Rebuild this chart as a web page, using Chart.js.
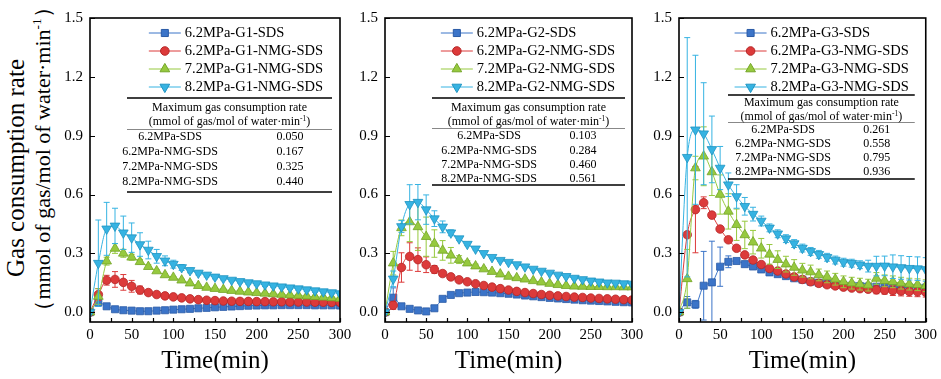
<!DOCTYPE html>
<html>
<head>
<meta charset="utf-8">
<title>Gas consumption rate</title>
<script src="https://cdn.jsdelivr.net/npm/chart.js@4.4.1/dist/chart.umd.min.js"></script>
<style>
  body { margin: 0; background: #fff; }
  #page { position: relative; width: 941px; height: 379px; overflow: hidden; font-family: "Liberation Serif", "Times New Roman", serif; color: #000; }
  canvas { position: absolute; top: 0; }
  .ytitle { position: absolute; white-space: nowrap; transform: translate(-50%, -50%) rotate(-90deg); line-height: 1; }
  .ytitle sup { font-size: 0.6em; }
</style>
</head>
<body>
<div id="page">
  <div class="ytitle" style="left:15px;top:168px;font-size:25px;">Gas consumption rate</div>
  <div class="ytitle" style="left:42px;top:159px;font-size:22px;">（mmol of gas/mol of water·min<sup>-1</sup>）</div>
  <canvas id="c1" width="310" height="379" style="left:50px"></canvas>
  <canvas id="c2" width="307" height="379" style="left:345px"></canvas>
  <canvas id="c3" width="302" height="379" style="left:639px"></canvas>
</div>
<script>
// time axis (min)
const times = [0, 10, 20, 30, 40, 50, 60, 70, 80, 90, 100, 110, 120, 130, 140, 150,
  160, 170, 180, 190, 200, 210, 220, 230, 240, 250, 260, 270, 280, 290, 300];
const xTicks = [0, 50, 100, 150, 200, 250, 300];
const xMinorTicks = [25, 75, 125, 175, 225, 275];
const yTicks = [0, 0.3, 0.6, 0.9, 1.2, 1.5];

const tableRows = ['6.2MPa-SDS', '6.2MPa-NMG-SDS', '7.2MPa-NMG-SDS', '8.2MPa-NMG-SDS'];

// ---- G1 ----
const g1Labels = ['6.2MPa-G1-SDS', '6.2MPa-G1-NMG-SDS', '7.2MPa-G1-NMG-SDS', '8.2MPa-G1-NMG-SDS'];
const g1Max = ['0.050', '0.167', '0.325', '0.440'];
const g1Sds = [0, 0.05, 0.03, 0.015, 0.01, 0.008, 0.005, 0.005, 0.008, 0.01, 0.013, 0.015, 0.017, 0.02, 0.022, 0.025,
  0.027, 0.029, 0.031, 0.033, 0.034, 0.035, 0.035, 0.036, 0.036, 0.036, 0.036, 0.035, 0.035, 0.035, 0.034];
const g1Nmg62 = [0, 0.09, 0.163, 0.167, 0.152, 0.132, 0.113, 0.1, 0.09, 0.083, 0.078, 0.073, 0.068, 0.064, 0.061, 0.059,
  0.057, 0.056, 0.055, 0.055, 0.054, 0.054, 0.053, 0.053, 0.052, 0.052, 0.052, 0.051, 0.051, 0.05, 0.05];
const g1Nmg72 = [0, 0.08, 0.26, 0.325, 0.3, 0.28, 0.257, 0.232, 0.21, 0.19, 0.177, 0.163, 0.148, 0.135, 0.126, 0.12,
  0.115, 0.11, 0.106, 0.102, 0.099, 0.096, 0.093, 0.09, 0.087, 0.085, 0.082, 0.079, 0.076, 0.073, 0.07];
const g1Nmg82 = [0, 0.25, 0.425, 0.44, 0.405, 0.38, 0.345, 0.317, 0.285, 0.262, 0.245, 0.228, 0.213, 0.2, 0.19, 0.18,
  0.172, 0.164, 0.157, 0.151, 0.146, 0.14, 0.135, 0.13, 0.125, 0.12, 0.115, 0.11, 0.105, 0.1, 0.095];
const g1SdsErr = [0, 0.02, 0.008, 0.005, 0.005, 0.005, 0.005, 0.005, 0.005, 0.005, 0.005, 0.005, 0.005, 0.005, 0.005, 0.005,
  0.005, 0.005, 0.005, 0.005, 0.005, 0.005, 0.005, 0.005, 0.005, 0.005, 0.005, 0.005, 0.005, 0.005, 0.005];
const g1Nmg62Err = [0, 0.03, 0.025, 0.04, 0.04, 0.03, 0.02, 0.012, 0.01, 0.008, 0.006, 0.005, 0.005, 0.005, 0.005, 0.005,
  0.005, 0.005, 0.005, 0.005, 0.005, 0.005, 0.005, 0.005, 0.005, 0.005, 0.005, 0.005, 0.005, 0.005, 0.005];
const g1Nmg72Err = [0, 0.04, 0.02, 0.025, 0.02, 0.015, 0.012, 0.01, 0.008, 0.006, 0.005, 0.005, 0.005, 0.005, 0.005, 0.005,
  0.005, 0.005, 0.005, 0.005, 0.005, 0.005, 0.005, 0.005, 0.005, 0.005, 0.005, 0.005, 0.005, 0.005, 0.005];
const g1Nmg82Err = [0, 0.22, 0.135, 0.09, 0.085, 0.075, 0.06, 0.045, 0.035, 0.025, 0.02, 0.015, 0.012, 0.01, 0.01, 0.01,
  0.008, 0.008, 0.008, 0.008, 0.008, 0.008, 0.008, 0.008, 0.008, 0.008, 0.008, 0.008, 0.008, 0.008, 0.008];

// ---- G2 ----
const g2Labels = ['6.2MPa-G2-SDS', '6.2MPa-G2-NMG-SDS', '7.2MPa-G2-NMG-SDS', '8.2MPa-G2-NMG-SDS'];
const g2Max = ['0.103', '0.284', '0.460', '0.561'];
const g2Sds = [0, 0.074, 0.03, 0.017, 0.009, 0.004, 0.02, 0.068, 0.088, 0.097, 0.1, 0.103, 0.102, 0.1, 0.097, 0.094,
  0.09, 0.085, 0.081, 0.077, 0.073, 0.07, 0.067, 0.064, 0.061, 0.059, 0.057, 0.055, 0.053, 0.051, 0.05];
const g2Nmg62 = [0, 0.035, 0.228, 0.284, 0.268, 0.242, 0.218, 0.197, 0.18, 0.165, 0.155, 0.145, 0.136, 0.128, 0.12, 0.113,
  0.106, 0.1, 0.095, 0.09, 0.086, 0.083, 0.08, 0.077, 0.075, 0.072, 0.07, 0.068, 0.066, 0.064, 0.062];
const g2Nmg72 = [0, 0.25, 0.43, 0.46, 0.435, 0.385, 0.35, 0.315, 0.29, 0.268, 0.25, 0.235, 0.22, 0.207, 0.194, 0.182,
  0.175, 0.168, 0.16, 0.153, 0.146, 0.14, 0.135, 0.132, 0.131, 0.13, 0.13, 0.129, 0.129, 0.128, 0.128];
const g2Nmg82 = [0, 0.17, 0.437, 0.55, 0.561, 0.523, 0.477, 0.435, 0.405, 0.375, 0.347, 0.323, 0.3, 0.28, 0.265, 0.255,
  0.243, 0.232, 0.22, 0.21, 0.2, 0.19, 0.183, 0.174, 0.167, 0.16, 0.155, 0.15, 0.149, 0.146, 0.144];
const g2SdsErr = [0, 0.05, 0.01, 0.005, 0.005, 0.005, 0.005, 0.005, 0.005, 0.005, 0.005, 0.005, 0.005, 0.005, 0.005, 0.005,
  0.005, 0.005, 0.005, 0.005, 0.005, 0.005, 0.005, 0.005, 0.005, 0.005, 0.005, 0.005, 0.005, 0.005, 0.005];
const g2Nmg62Err = [0, 0.02, 0.075, 0.07, 0.06, 0.04, 0.02, 0.012, 0.01, 0.008, 0.006, 0.005, 0.005, 0.005, 0.005, 0.005,
  0.005, 0.005, 0.005, 0.005, 0.005, 0.005, 0.005, 0.005, 0.005, 0.005, 0.005, 0.005, 0.005, 0.005, 0.005];
const g2Nmg72Err = [0, 0.06, 0.04, 0.1, 0.12, 0.1, 0.07, 0.05, 0.04, 0.02, 0.012, 0.01, 0.008, 0.006, 0.005, 0.005,
  0.005, 0.005, 0.005, 0.005, 0.005, 0.005, 0.005, 0.005, 0.005, 0.005, 0.005, 0.005, 0.005, 0.005, 0.005];
const g2Nmg82Err = [0, 0.04, 0.03, 0.1, 0.09, 0.075, 0.04, 0.03, 0.015, 0.01, 0.008, 0.006, 0.005, 0.005, 0.005, 0.005,
  0.005, 0.005, 0.005, 0.005, 0.005, 0.005, 0.005, 0.005, 0.005, 0.005, 0.005, 0.005, 0.005, 0.005, 0.005];

// ---- G3 ----
const g3Labels = ['6.2MPa-G3-SDS', '6.2MPa-G3-NMG-SDS', '7.2MPa-G3-NMG-SDS', '8.2MPa-G3-NMG-SDS'];
const g3Max = ['0.261', '0.558', '0.795', '0.936'];
const g3Sds = [0, 0.05, 0.04, 0.135, 0.152, 0.232, 0.257, 0.261, 0.245, 0.233, 0.218, 0.203, 0.194, 0.184, 0.173, 0.166,
  0.156, 0.15, 0.145, 0.14, 0.137, 0.135, 0.133, 0.131, 0.13, 0.129, 0.128, 0.127, 0.126, 0.125, 0.125];
const g3Nmg62 = [0, 0.395, 0.523, 0.558, 0.495, 0.424, 0.369, 0.326, 0.292, 0.266, 0.243, 0.223, 0.21, 0.195, 0.18, 0.167,
  0.155, 0.147, 0.14, 0.134, 0.128, 0.123, 0.12, 0.117, 0.114, 0.112, 0.11, 0.108, 0.106, 0.104, 0.102];
const g3Nmg72 = [0, 0.17, 0.735, 0.795, 0.715, 0.6, 0.514, 0.446, 0.394, 0.357, 0.326, 0.295, 0.268, 0.245, 0.228, 0.214,
  0.205, 0.19, 0.18, 0.168, 0.155, 0.148, 0.143, 0.138, 0.172, 0.16, 0.155, 0.148, 0.143, 0.14, 0.135];
const g3Nmg82 = [0, 0.79, 0.93, 0.91, 0.83, 0.735, 0.65, 0.59, 0.54, 0.5, 0.465, 0.43, 0.4, 0.375, 0.35, 0.327,
  0.31, 0.295, 0.28, 0.266, 0.255, 0.25, 0.242, 0.235, 0.235, 0.236, 0.232, 0.228, 0.224, 0.222, 0.218];
const g3SdsErr = [0, 0.03, 0.02, 0.175, 0.21, 0.1, 0.03, 0.01, 0.01, 0.01, 0.01, 0.01, 0.01, 0.01, 0.01, 0.01,
  0.01, 0.01, 0.01, 0.01, 0.01, 0.01, 0.01, 0.01, 0.01, 0.01, 0.01, 0.01, 0.01, 0.01, 0.01];
const g3Nmg62Err = [0, 0.01, 0.22, 0.03, 0.012, 0.01, 0.01, 0.01, 0.01, 0.01, 0.01, 0.01, 0.01, 0.01, 0.01, 0.01,
  0.01, 0.01, 0.01, 0.01, 0.01, 0.012, 0.015, 0.015, 0.02, 0.02, 0.025, 0.025, 0.025, 0.025, 0.025];
const g3Nmg72Err = [0, 0.15, 0.06, 0.15, 0.12, 0.1, 0.09, 0.08, 0.07, 0.06, 0.05, 0.05, 0.045, 0.04, 0.04, 0.035,
  0.035, 0.03, 0.03, 0.03, 0.03, 0.03, 0.03, 0.03, 0.03, 0.03, 0.03, 0.03, 0.03, 0.03, 0.03];
const g3Nmg82Err = [0, 0.61, 0.38, 0.26, 0.17, 0.11, 0.06, 0.06, 0.045, 0.035, 0.025, 0.02, 0.02, 0.02, 0.02, 0.02,
  0.02, 0.02, 0.02, 0.02, 0.02, 0.02, 0.02, 0.03, 0.05, 0.05, 0.06, 0.06, 0.06, 0.06, 0.06];

const colors = ['#3b74c8', '#dc3a3a', '#96c93e', '#36b3e2'];
const edgeColors = ['#2a5aa6', '#b52626', '#74a527', '#1f94c2'];
const markers = ['rect', 'circle', 'triangle', 'down'];
const markerSize = [5, 4.3, 5.6, 5.6];

const SERIF = '"Liberation Serif", "Times New Roman", serif';

function drawMarker(ctx, style, x, y, r) {
  ctx.beginPath();
  if (style === 'rect') {
    const s = r * Math.SQRT1_2;
    ctx.rect(x - s, y - s, 2 * s, 2 * s);
  } else if (style === 'circle') {
    ctx.arc(x, y, r, 0, Math.PI * 2);
  } else {
    const d = style === 'down' ? 1 : -1;
    const w = r * Math.sqrt(3) / 2;
    ctx.moveTo(x, y + d * r);
    ctx.lineTo(x + w, y - d * r / 2);
    ctx.lineTo(x - w, y - d * r / 2);
    ctx.closePath();
  }
  ctx.fill();
  ctx.stroke();
}

// error bars under each series
const errorBars = {
  id: 'errorBars',
  beforeDatasetDraw(chart, args) {
    const ds = chart.data.datasets[args.index];
    if (!ds.errors) return;
    const { ctx, chartArea: a } = chart;
    const y = chart.scales.y;
    ctx.save();
    ctx.beginPath();
    ctx.rect(a.left, a.top, a.right - a.left, a.bottom - a.top);
    ctx.clip();
    ctx.strokeStyle = ds.borderColor;
    ctx.lineWidth = 1;
    args.meta.data.forEach((pt, i) => {
      const e = ds.errors[i];
      if (!e) return;
      const v = ds.data[i].y;
      const top = y.getPixelForValue(v + e);
      const bot = y.getPixelForValue(v - e);
      ctx.beginPath();
      ctx.moveTo(pt.x, top); ctx.lineTo(pt.x, bot);
      ctx.moveTo(pt.x - 3, top); ctx.lineTo(pt.x + 3, top);
      ctx.moveTo(pt.x - 3, bot); ctx.lineTo(pt.x + 3, bot);
      ctx.stroke();
    });
    ctx.restore();
  }
};

// box frame with inward ticks
const frame = {
  id: 'frame',
  afterDraw(chart) {
    const { ctx, chartArea: a } = chart;
    const x = chart.scales.x, y = chart.scales.y;
    ctx.save();
    ctx.strokeStyle = '#000';
    ctx.lineWidth = 1.2;
    ctx.beginPath();
    xTicks.concat(xMinorTicks).forEach(t => {
      const px = Math.round(x.getPixelForValue(t)) + 0.5;
      ctx.moveTo(px, a.bottom); ctx.lineTo(px, a.bottom - 4);
    });
    yTicks.forEach(v => {
      const py = Math.round(y.getPixelForValue(v)) + 0.5;
      ctx.moveTo(a.left, py); ctx.lineTo(a.left + 5, py);
    });
    ctx.stroke();
    ctx.lineWidth = 1.6;
    ctx.strokeRect(a.left, a.top, a.right - a.left, a.bottom - a.top);
    ctx.restore();
  }
};

// legend + inset table
const inset = {
  id: 'inset',
  afterDraw(chart, args, opts) {
    const { ctx, chartArea: a } = chart;
    ctx.save();
    // legend
    ctx.font = '14.5px ' + SERIF;
    ctx.textBaseline = 'middle';
    ctx.textAlign = 'left';
    const widths = chart.data.datasets.map(d => ctx.measureText(d.label).width);
    const textX = a.right - 17 - Math.max(...widths);
    chart.data.datasets.forEach((d, i) => {
      const ly = a.top + 15 + i * 18;
      ctx.strokeStyle = d.borderColor;
      ctx.lineWidth = 1;
      ctx.beginPath();
      ctx.moveTo(textX - 36, ly); ctx.lineTo(textX - 4, ly);
      ctx.stroke();
      ctx.fillStyle = d.pointBackgroundColor;
      ctx.strokeStyle = d.pointBorderColor;
      drawMarker(ctx, markers[i], textX - 20, ly, markerSize[i]);
      ctx.fillStyle = '#000';
      ctx.fillText(d.label, textX, ly);
    });

    // table
    const t = opts.geom;
    const left = a.left + t.left, right = a.right - t.right;
    ctx.strokeStyle = '#000';
    ctx.lineWidth = 1.5;
    ctx.beginPath();
    ctx.moveTo(left, t.top); ctx.lineTo(right, t.top);
    ctx.moveTo(left, t.bottom); ctx.lineTo(right, t.bottom);
    ctx.stroke();
    ctx.strokeStyle = '#888';
    ctx.lineWidth = 1;
    ctx.beginPath();
    ctx.moveTo(left, t.sep + 0.5); ctx.lineTo(right, t.sep + 0.5);
    ctx.stroke();

    ctx.fillStyle = '#000';
    ctx.font = '12px ' + SERIF;
    ctx.textAlign = 'center';
    const mid = (left + right) / 2;
    ctx.fillText('Maximum gas consumption rate', mid, t.h1);
    // second header line with superscript
    const p1 = '(mmol of gas/mol of water·min', sup = '-1', p2 = ')';
    ctx.textAlign = 'left';
    const w1 = ctx.measureText(p1).width, w3 = ctx.measureText(p2).width;
    ctx.font = '7.5px ' + SERIF;
    const w2 = ctx.measureText(sup).width;
    let hx = mid - (w1 + w2 + w3) / 2;
    ctx.font = '12px ' + SERIF;
    ctx.fillText(p1, hx, t.h2);
    ctx.font = '7.5px ' + SERIF;
    ctx.fillText(sup, hx + w1, t.h2 - 3);
    ctx.font = '12px ' + SERIF;
    ctx.fillText(p2, hx + w1 + w2, t.h2);

    ctx.textAlign = 'center';
    tableRows.forEach((name, i) => {
      ctx.fillText(name, a.left + t.labelX, t.rows[i]);
      ctx.fillText(opts.maxVals[i], a.right - t.valueX, t.rows[i]);
    });
    ctx.restore();
  }
};

function makePanel(id, labels, values, errors, maxVals, geom, padRight) {
  const datasets = values.map((vals, i) => ({
    label: labels[i],
    data: times.map((t, k) => ({ x: t, y: vals[k] })),
    errors: errors[i],
    borderColor: colors[i],
    backgroundColor: colors[i],
    pointBackgroundColor: colors[i],
    pointBorderColor: edgeColors[i],
    pointBorderWidth: 0.8,
    pointStyle: markers[i] === 'down' ? 'triangle' : markers[i],
    rotation: markers[i] === 'down' ? 180 : 0,
    pointRadius: markerSize[i],
    borderWidth: 1,
    cubicInterpolationMode: 'monotone',
    order: 4 - i
  }));

  new Chart(document.getElementById(id), {
    type: 'line',
    data: { datasets },
    options: {
      responsive: false,
      animation: false,
      layout: { padding: { top: 18, right: padRight, left: 0, bottom: 0 } },
      plugins: {
        legend: { display: false },
        tooltip: { enabled: false },
        inset: { geom, maxVals }
      },
      scales: {
        x: {
          type: 'linear',
          min: 0,
          max: 300,
          afterBuildTicks: s => { s.ticks = xTicks.map(v => ({ value: v })); },
          afterFit: s => { s.height = 57; },
          grid: { display: false, drawTicks: false },
          border: { display: false },
          ticks: { color: '#000', font: { family: SERIF, size: 15 }, padding: 4, maxRotation: 0 },
          title: { display: true, text: 'Time(min)', color: '#000', font: { family: SERIF, size: 25 }, padding: { top: 0, bottom: 3 } }
        },
        y: {
          min: -0.05,
          max: 1.5,
          afterBuildTicks: s => { s.ticks = yTicks.map(v => ({ value: v })); },
          afterFit: s => { s.width = 40; },
          grid: { display: false, drawTicks: false },
          border: { display: false },
          ticks: { color: '#000', font: { family: SERIF, size: 15 }, padding: 7, callback: v => v.toFixed(1) }
        }
      }
    },
    plugins: [errorBars, frame, inset]
  });
}

makePanel('c1', g1Labels, [g1Sds, g1Nmg62, g1Nmg72, g1Nmg82], [g1SdsErr, g1Nmg62Err, g1Nmg72Err, g1Nmg82Err], g1Max,
  { left: 37, right: 8, labelX: 80, valueX: 50, top: 98, h1: 108, h2: 122, sep: 129, rows: [137, 152, 167, 182], bottom: 192 }, 20);
makePanel('c2', g2Labels, [g2Sds, g2Nmg62, g2Nmg72, g2Nmg82], [g2SdsErr, g2Nmg62Err, g2Nmg72Err, g2Nmg82Err], g2Max,
  { left: 47, right: 7, labelX: 104, valueX: 49, top: 98, h1: 108, h2: 122, sep: 128, rows: [136, 150.5, 164.5, 178.5], bottom: 185 }, 20);
makePanel('c3', g3Labels, [g3Sds, g3Nmg62, g3Nmg72, g3Nmg82], [g3SdsErr, g3Nmg62Err, g3Nmg72Err, g3Nmg82Err], g3Max,
  { left: 49, right: 11, labelX: 104, valueX: 49, top: 95, h1: 103, h2: 117, sep: 122, rows: [130, 144, 158, 172], bottom: 179 }, 15);
</script>
</body>
</html>
